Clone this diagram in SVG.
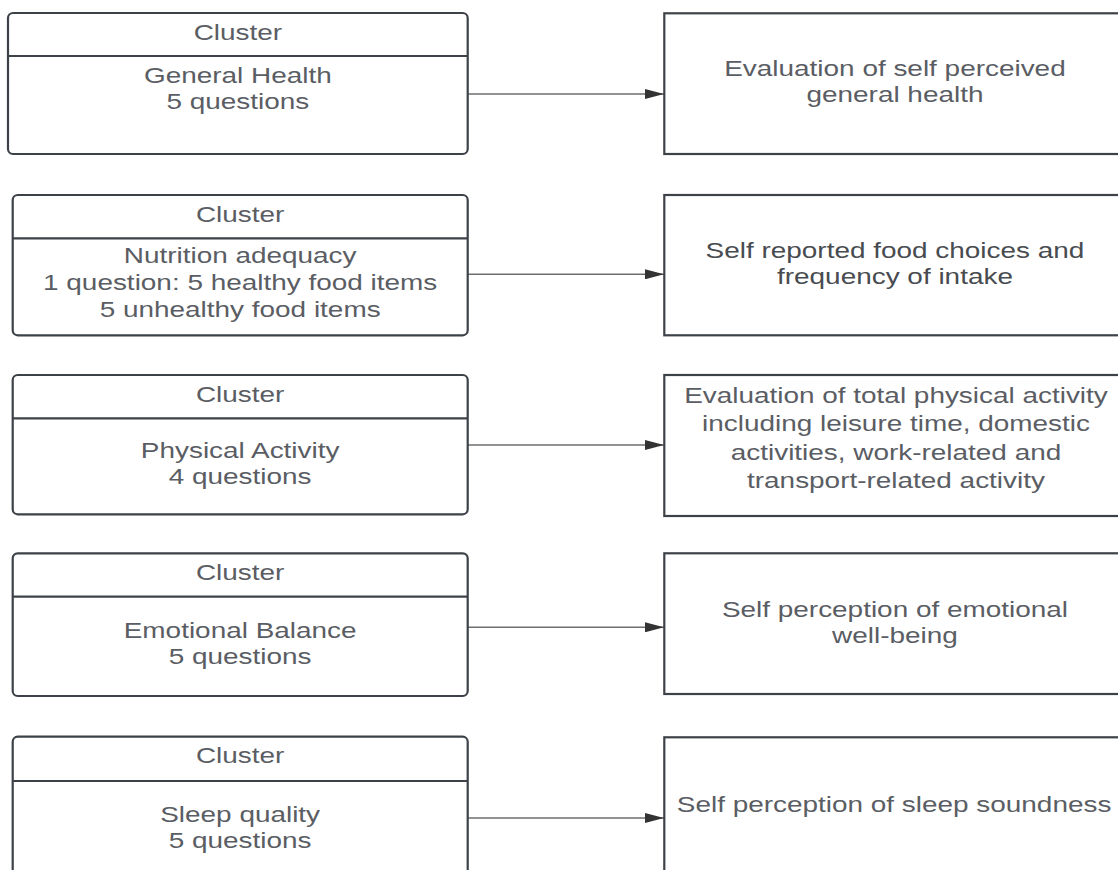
<svg xmlns="http://www.w3.org/2000/svg" width="1118" height="870" viewBox="0 0 1118 870">
<style>
.box{fill:#ffffff;stroke:#3d4148;stroke-width:2.2}
.hdr{stroke:#3d4148;stroke-width:2.2}
.conn{stroke:#6e6e6e;stroke-width:1.6;fill:none}
text{font-family:"Liberation Sans",Arial,sans-serif;font-size:22px;fill:#5a5d63;text-anchor:middle}
.dark{fill:#484b50}
</style>
<defs>
<marker id="arr" viewBox="0 0 19 10" refX="19" refY="5" markerWidth="19" markerHeight="10" markerUnits="userSpaceOnUse" orient="auto">
<path d="M0,0 L19,5 L0,10 Z" fill="#333333"/>
</marker>
</defs>
<rect width="1118" height="870" fill="#ffffff"/>
<g id="connectors">
<line class="conn" x1="468" y1="94" x2="664" y2="94" marker-end="url(#arr)"/>
<line class="conn" x1="468" y1="274.3" x2="664" y2="274.3" marker-end="url(#arr)"/>
<line class="conn" x1="468" y1="445" x2="664" y2="445" marker-end="url(#arr)"/>
<line class="conn" x1="468" y1="627.3" x2="664" y2="627.3" marker-end="url(#arr)"/>
<line class="conn" x1="468" y1="818" x2="664" y2="818" marker-end="url(#arr)"/>
</g>
<g id="cluster-general-health">
<rect class="box" x="8" y="13" width="459.7" height="141" rx="5"/>
<line class="hdr" x1="8" y1="56" x2="467.7" y2="56"/>
<g transform="scale(1.27 1)">
<text x="187.3" y="40">Cluster</text>
<text x="187.3" y="83.3">General Health</text>
<text x="187.3" y="109.3">5 questions</text>
</g>
</g>
<g id="cluster-nutrition">
<rect class="box" x="12.7" y="195" width="455" height="140.3" rx="5"/>
<line class="hdr" x1="12.7" y1="238.3" x2="467.7" y2="238.3"/>
<g transform="scale(1.27 1)">
<text x="189.1" y="221.7">Cluster</text>
<text x="189.1" y="263.3">Nutrition adequacy</text>
<text x="189.1" y="290">1 question: 5 healthy food items</text>
<text x="189.1" y="317.3">5 unhealthy food items</text>
</g>
</g>
<g id="cluster-physical">
<rect class="box" x="12.7" y="375" width="455" height="139.3" rx="5"/>
<line class="hdr" x1="12.7" y1="418.3" x2="467.7" y2="418.3"/>
<g transform="scale(1.27 1)">
<text x="189.1" y="401.7">Cluster</text>
<text x="189.1" y="458.3">Physical Activity</text>
<text x="189.1" y="484.3">4 questions</text>
</g>
</g>
<g id="cluster-emotional">
<rect class="box" x="12.7" y="553.3" width="455" height="142.7" rx="5"/>
<line class="hdr" x1="12.7" y1="596.7" x2="467.7" y2="596.7"/>
<g transform="scale(1.27 1)">
<text x="189.1" y="580">Cluster</text>
<text x="189.1" y="638.3">Emotional Balance</text>
<text x="189.1" y="664.3">5 questions</text>
</g>
</g>
<g id="cluster-sleep">
<rect class="box" x="12.7" y="736.7" width="455" height="200" rx="5"/>
<line class="hdr" x1="12.7" y1="781" x2="467.7" y2="781"/>
<g transform="scale(1.27 1)">
<text x="189.1" y="763">Cluster</text>
<text x="189.1" y="821.7">Sleep quality</text>
<text x="189.1" y="848.3">5 questions</text>
</g>
</g>
<g id="out-general-health">
<rect class="box" x="664.3" y="13.3" width="480" height="140.7"/>
<g transform="scale(1.27 1)">
<text x="704.7" y="76">Evaluation of self perceived</text>
<text x="704.7" y="102">general health</text>
</g>
</g>
<g id="out-nutrition">
<rect class="box" x="664.3" y="195" width="480" height="140.3"/>
<g transform="scale(1.27 1)">
<text class="dark" x="704.7" y="258.5">Self reported food choices and</text>
<text class="dark" x="704.7" y="284.5">frequency of intake</text>
</g>
</g>
<g id="out-physical">
<rect class="box" x="664.3" y="375" width="480" height="141"/>
<g transform="scale(1.27 1)">
<text x="705.5" y="403">Evaluation of total physical activity</text>
<text x="705.5" y="431.5">including leisure time, domestic</text>
<text x="705.5" y="460">activities, work-related and</text>
<text x="705.5" y="488.5">transport-related activity</text>
</g>
</g>
<g id="out-emotional">
<rect class="box" x="664.3" y="553.3" width="480" height="140.7"/>
<g transform="scale(1.27 1)">
<text x="704.7" y="617">Self perception of emotional</text>
<text x="704.7" y="643.5">well-being</text>
</g>
</g>
<g id="out-sleep">
<rect class="box" x="664.3" y="737.3" width="480" height="200"/>
<g transform="scale(1.27 1)">
<text x="704" y="811.7">Self perception of sleep soundness</text>
</g>
</g>
</svg>
